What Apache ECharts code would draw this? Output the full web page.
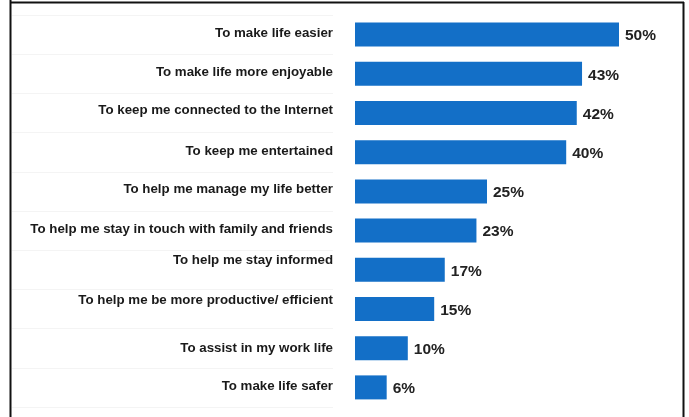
<!DOCTYPE html>
<html><head><meta charset="utf-8">
<script src="https://cdn.jsdelivr.net/npm/echarts@6/dist/echarts.min.js"></script>
<style>html,body{margin:0;padding:0;background:#fff}#c{width:689px;height:417px}</style>
</head><body><div id="c"></div>
<script>
const categories = [
  "To make life easier",
  "To make life more enjoyable",
  "To keep me connected to the Internet",
  "To keep me entertained",
  "To help me manage my life better",
  "To help me stay in touch with family and friends",
  "To help me stay informed",
  "To help me be more productive/ efficient",
  "To assist in my work life",
  "To make life safer"
];
const values = [50, 43, 42, 40, 25, 23, 17, 15, 10, 6];
// bottom padding per category label, lifts the label above the bar centre (style only)
const labelPad = [2, 2, 5, 1, 4, 2, 18, 17, 0, 2];

const chart = echarts.init(document.getElementById('c'), null, {renderer: 'canvas'});
const font = '"Liberation Sans", Arial, sans-serif';
const rich = {};
labelPad.forEach((p, i) => {
  rich['s' + i] = {padding: [0, 0, p, 0], color: '#1a1a1a', fontFamily: font, fontWeight: 'bold', fontSize: 13.3};
});
chart.setOption({
  animation: false,
  backgroundColor: '#fff',
  grid: [
    {left: 355, top: 15, width: 264, height: 392},
    {left: 12, top: 15, width: 321, height: 392}
  ],
  xAxis: [
    {gridIndex: 0, type: 'value', min: 0, max: 50, show: false},
    {gridIndex: 1, type: 'value', min: 0, max: 1, show: false}
  ],
  yAxis: [
    {gridIndex: 0, type: 'category', inverse: true, data: categories,
      axisLine: {show: false}, axisTick: {show: false}, splitLine: {show: false},
      axisLabel: {margin: 22, color: '#1a1a1a', fontFamily: font, fontWeight: 'bold', fontSize: 13.3,
        formatter: function (v) { const i = categories.indexOf(v); return '{s' + i + '|' + v + '}'; },
        rich: rich}},
    {gridIndex: 1, type: 'category', inverse: true, data: categories,
      axisLine: {show: false}, axisTick: {show: false}, axisLabel: {show: false},
      splitLine: {show: true, lineStyle: {color: '#f4f4f4', width: 1}}}
  ],
  series: [{
    type: 'bar', xAxisIndex: 0, yAxisIndex: 0, data: values,
    barWidth: 24,
    itemStyle: {color: '#136fc7'},
    label: {show: true, position: 'right', distance: 6, offset: [0, 1.5], formatter: '{c}%',
      color: '#222', fontFamily: font, fontWeight: 'bold', fontSize: 15.5}
  }],
  graphic: [
    {type: 'line', shape: {x1: 10, y1: 2.5, x2: 684, y2: 2.5}, style: {stroke: '#111', lineWidth: 2}},
    {type: 'line', shape: {x1: 10.5, y1: 0, x2: 10.5, y2: 417}, style: {stroke: '#111', lineWidth: 2}},
    {type: 'line', shape: {x1: 683.5, y1: 2, x2: 683.5, y2: 417}, style: {stroke: '#111', lineWidth: 2}}
  ]
});
</script></body></html>
